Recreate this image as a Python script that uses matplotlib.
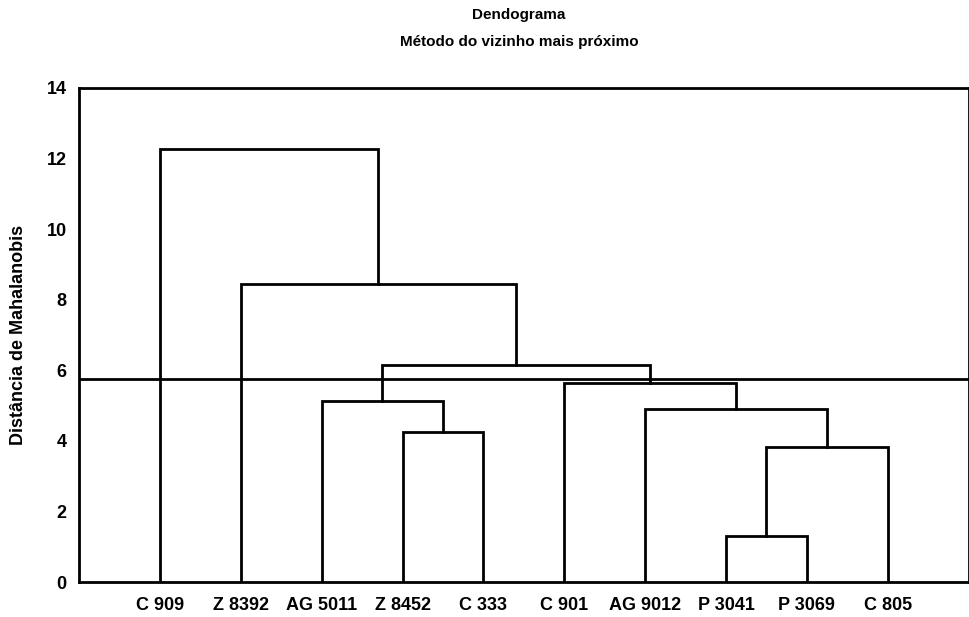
import matplotlib.pyplot as plt
from matplotlib import font_manager

# leaves in plotting order
labels = ['C 909', 'Z 8392', 'AG 5011', 'Z 8452', 'C 333',
          'C 901', 'AG 9012', 'P 3041', 'P 3069', 'C 805']

# merges: (cluster a, cluster b, distance); new clusters numbered from 10
merge_a = [7, 10, 3, 6, 2, 5, 14, 1, 0]
merge_b = [8, 9, 4, 11, 12, 13, 15, 16, 17]
merge_h = [1.3, 3.82, 4.25, 4.9, 5.13, 5.64, 6.15, 8.44, 12.27]

cut_height = 5.75

# narrow bold font if there is one, else Arial-like
font = 'Liberation Sans'
try:
    font_manager.findfont(font_manager.FontProperties(family='Liberation Sans Narrow'),
                          fallback_to_default=False)
    font = 'Liberation Sans Narrow'
except ValueError:
    pass
plt.rcParams['font.family'] = [font, 'DejaVu Sans']
plt.rcParams['font.weight'] = 'bold'
fs = 14 if font == 'Liberation Sans Narrow' else 13

fig = plt.figure(figsize=(9.7, 6.17), dpi=100)
ax = fig.add_axes([0.0815, 0.0567, 0.917, 0.8007])

# x position and height of each cluster
xpos = {i: i + 1 for i in range(len(labels))}
ypos = {i: 0.0 for i in range(len(labels))}
for k, (a, b, h) in enumerate(zip(merge_a, merge_b, merge_h)):
    ax.plot([xpos[a], xpos[a], xpos[b], xpos[b]], [ypos[a], h, h, ypos[b]],
            color='black', lw=2.0, solid_joinstyle='miter')
    new = len(labels) + k
    xpos[new] = (xpos[a] + xpos[b]) / 2
    ypos[new] = h

ax.axhline(cut_height, color='black', lw=2.0)

ax.set_xlim(0, 11)
ax.set_ylim(0, 14)
ax.set_xticks(range(1, len(labels) + 1))
ax.set_xticklabels(labels, fontsize=fs, fontweight='bold')
ax.set_yticks(range(0, 15, 2))
ax.tick_params(axis='x', length=0, pad=11)
ax.tick_params(axis='y', length=0, pad=9, labelsize=fs)
for t in ax.get_yticklabels():
    t.set_fontweight('bold')
for s in ax.spines.values():
    s.set_linewidth(2.0)

ax.set_ylabel('Distância de Mahalanobis', fontsize=fs, fontweight='bold', labelpad=14)

fig.text(0.535, 0.975, 'Dendograma', ha='center', va='center', fontsize=fs - 2, fontweight='bold')
fig.text(0.535, 0.932, 'Método do vizinho mais próximo', ha='center', va='center',
         fontsize=fs - 2, fontweight='bold')

fig.savefig('out.png', dpi=100)
